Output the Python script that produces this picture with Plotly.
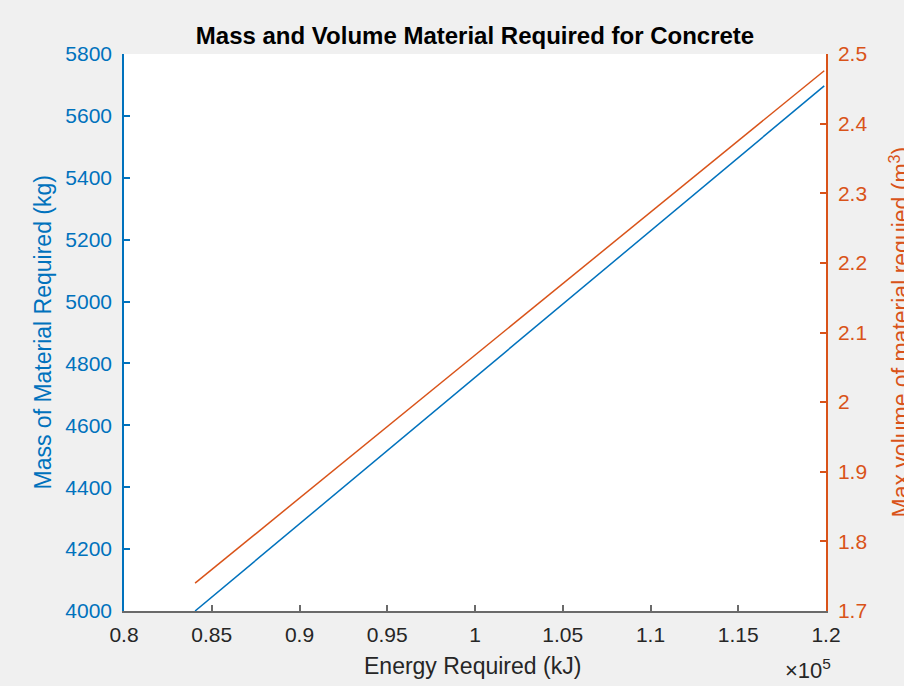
import plotly.graph_objects as go

# ---- data ----
energy_kj = [84050, 119900]
mass_kg = [4000, 5697]
volume_m3 = [1.740, 2.476]

x_tickvals = [80000, 85000, 90000, 95000, 100000, 105000, 110000, 115000, 120000]
x_ticktext = ["0.8", "0.85", "0.9", "0.95", "1", "1.05", "1.1", "1.15", "1.2"]
y_tickvals = [4000, 4200, 4400, 4600, 4800, 5000, 5200, 5400, 5600, 5800]
y2_tickvals = [1.7, 1.8, 1.9, 2.0, 2.1, 2.2, 2.3, 2.4, 2.5]
y2_ticktext = ["1.7", "1.8", "1.9", "2", "2.1", "2.2", "2.3", "2.4", "2.5"]

BLUE = "#0072BD"
ORANGE = "#D95319"
DARK = "#262626"
FONT = "Liberation Sans, Arial, sans-serif"

fig = go.Figure()
fig.add_trace(go.Scatter(x=energy_kj, y=mass_kg, mode="lines",
                         line=dict(color=BLUE, width=1.5), yaxis="y"))
fig.add_trace(go.Scatter(x=energy_kj, y=volume_m3, mode="lines",
                         line=dict(color=ORANGE, width=1.5), yaxis="y2"))

fig.update_layout(
    width=904, height=686,
    margin=dict(l=124, r=78, t=54, b=75),
    paper_bgcolor="#f0f0f0",
    plot_bgcolor="white",
    showlegend=False,
    font=dict(family=FONT, size=21, color=DARK),
    title=dict(text="<b>Mass and Volume Material Required for Concrete</b>",
               x=(124 + 826) / 2 / 904, xanchor="center",
               y=1 - 36 / 686, yanchor="middle",
               font=dict(family=FONT, size=24, color="black")),
    xaxis=dict(range=[80000, 120000], tickvals=x_tickvals, ticktext=x_ticktext,
               showgrid=False, zeroline=False, showline=True,
               linecolor="#6a6a6a", linewidth=2,
               ticks="inside", ticklen=6, tickcolor="#6a6a6a", tickwidth=1.5,
               tickfont=dict(size=21, color=DARK), ticklabelstandoff=4),
    yaxis=dict(range=[4000, 5800], tickvals=y_tickvals,
               showgrid=False, zeroline=False, showline=True,
               linecolor=BLUE, linewidth=1.5,
               ticks="inside", ticklen=6, tickcolor=BLUE, tickwidth=1.5,
               tickfont=dict(size=21, color=BLUE), ticklabelstandoff=6),
    yaxis2=dict(range=[1.7, 2.5], tickvals=y2_tickvals, ticktext=y2_ticktext,
                overlaying="y", side="right",
                showgrid=False, zeroline=False, showline=True,
                linecolor=ORANGE, linewidth=1.5,
                ticks="inside", ticklen=6, tickcolor=ORANGE, tickwidth=1.5,
                tickfont=dict(size=21, color=ORANGE), ticklabelstandoff=6),
)

annotations = [
    dict(text="Energy Required (kJ)", xref="paper", yref="paper",
         x=(472 - 124) / 702, y=(611 - 666) / 557, xanchor="center", yanchor="middle",
         showarrow=False, font=dict(family=FONT, size=23, color=DARK)),
    dict(text="Mass of Material Required (kg)", xref="paper", yref="paper",
         x=(42 - 124) / 702, y=0.5, xanchor="center", yanchor="middle", textangle=-90,
         showarrow=False, font=dict(family=FONT, size=23, color=BLUE)),
    dict(text="Max volume of material requied (m<sup>3</sup>)", xref="paper", yref="paper",
         x=(899 - 124) / 702, y=0.5, xanchor="center", yanchor="middle", textangle=-90,
         showarrow=False, font=dict(family=FONT, size=23, color=ORANGE)),
    dict(text="×10<sup>5</sup>", xref="paper", yref="paper",
         x=(833 - 124) / 702, y=(611 - 669) / 557, xanchor="right", yanchor="middle",
         showarrow=False, font=dict(family=FONT, size=22, color=DARK)),
]
fig.update_layout(annotations=annotations)

fig.write_html("out.html")
